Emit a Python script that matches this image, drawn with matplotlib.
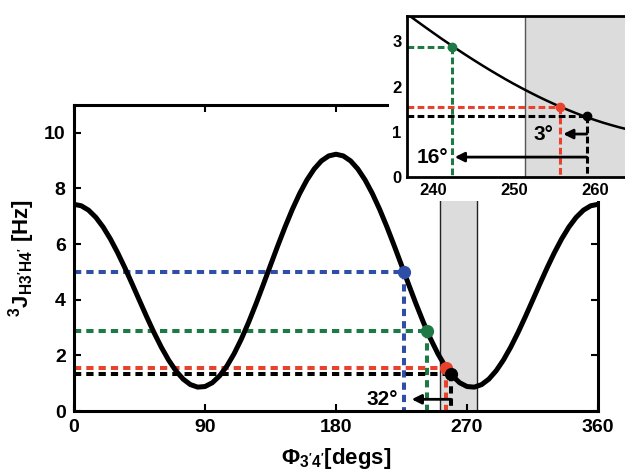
import matplotlib
matplotlib.use("Agg")
import matplotlib.pyplot as plt
from matplotlib.patches import Rectangle

# ---------------- data ----------------
phi_deg = list(range(0, 365, 5))
J_hz = [7.430, 7.377, 7.219, 6.962, 6.613, 6.184, 5.688, 5.142, 4.562, 3.969,
        3.380, 2.815, 2.293, 1.830, 1.444, 1.146, 0.948, 0.858, 0.880, 1.015,
        1.261, 1.612, 2.059, 2.591, 3.193, 3.847, 4.537, 5.241, 5.941, 6.616,
        7.247, 7.815, 8.304, 8.700, 8.992, 9.170, 9.230,
        9.170, 8.992, 8.700, 8.304, 7.815, 7.247, 6.616, 5.941, 5.241, 4.537,
        3.847, 3.193, 2.591, 2.059, 1.612, 1.261, 1.015, 0.880, 0.858, 0.948,
        1.146, 1.444, 1.830, 2.293, 2.815, 3.380, 3.969, 4.562, 5.142, 5.688,
        6.184, 6.613, 6.962, 7.219, 7.377, 7.430]

inset_phi = list(range(236, 266))
inset_J = [3.713, 3.580, 3.449, 3.320, 3.193, 3.067, 2.945, 2.824, 2.706, 2.591,
           2.479, 2.369, 2.263, 2.159, 2.059, 1.963, 1.870, 1.780, 1.694, 1.612,
           1.534, 1.460, 1.389, 1.323, 1.261, 1.203, 1.150, 1.100, 1.056, 1.015]

point_phi = [226.6, 242.4, 255.7, 259.0]
point_J = [5.0, 2.88, 1.55, 1.34]
point_colors = ["#2f4ea8", "#1d7a45", "#e8422c", "#000000"]
inset_point_idx = [1, 2, 3]

shade_range = [251.4, 276.8]

main_xticks = [0, 90, 180, 270, 360]
main_yticks = [0, 2, 4, 6, 8, 10]
inset_xticks = [240, 250, 260]
inset_yticks = [0, 1, 2, 3]

main_arrow = {"start": 259.0, "end": 232.0, "y": 0.42, "label": "32°", "label_x": 212.0}
inset_arrows = [
    {"start": 259.0, "end": 256.1, "y": 0.95, "label": "3°", "label_x": 253.6},
    {"start": 259.0, "end": 242.7, "y": 0.44, "label": "16°", "label_x": 240.0},
]

# ---------------- style ----------------
plt.rcParams["font.family"] = ["Liberation Sans", "DejaVu Sans"]
plt.rcParams["font.weight"] = "bold"
plt.rcParams["mathtext.fontset"] = "custom"
plt.rcParams["mathtext.rm"] = "Liberation Sans:bold"
plt.rcParams["mathtext.bf"] = "Liberation Sans:bold"
plt.rcParams["mathtext.it"] = "Liberation Sans:bold"

fig = plt.figure(figsize=(6.25, 4.74), dpi=100)
W, H = 625, 474

ax = fig.add_axes([74 / W, 1 - 411 / H, (598 - 74) / W, (411 - 105) / H])
ax.set_zorder(1)

ax.axvspan(shade_range[0], shade_range[1], facecolor="#dcdcdc", edgecolor="none", zorder=0)
for xv in shade_range:
    ax.axvline(xv, color="#222222", lw=1.0, zorder=0.5)

dash_main = (1.8, 1.25)
for px, py, c in zip(point_phi, point_J, point_colors):
    ax.plot([0, px], [py, py], color=c, lw=2.9, dashes=dash_main, zorder=2)
    ax.plot([px, px], [py, 0], color=c, lw=2.9, dashes=dash_main, zorder=2)

ax.plot(phi_deg, J_hz, color="black", lw=3.6, zorder=3, solid_capstyle="round")

for px, py, c in zip(point_phi, point_J, point_colors):
    ax.plot(px, py, "o", color=c, ms=8.5, zorder=4)

ax.annotate("", xy=(main_arrow["end"], main_arrow["y"]),
            xytext=(main_arrow["start"], main_arrow["y"]),
            arrowprops=dict(arrowstyle="-|>", color="black", lw=2.0,
                            mutation_scale=14, shrinkA=0, shrinkB=0), zorder=5)
ax.text(main_arrow["label_x"], main_arrow["y"], main_arrow["label"], fontsize=15,
        fontweight="bold", ha="center", va="center", zorder=5)

ax.set_xlim(0, 360)
ax.set_ylim(0, 11)
ax.set_xticks(main_xticks)
ax.set_yticks(main_yticks)
ax.tick_params(direction="in", top=True, right=True, length=5, width=1.5,
               labelsize=14, pad=6)
for lab in ax.get_xticklabels() + ax.get_yticklabels():
    lab.set_fontweight("bold")
for s in ax.spines.values():
    s.set_linewidth(2.2)

ax.set_xlabel(r"$\mathbf{\Phi_{3'4'}}$[degs]", fontsize=16, fontweight="bold", labelpad=7)
ax.set_ylabel(r"$^{\mathbf{3}}\mathbf{J_{H3'H4'}}$ [Hz]", fontsize=16, fontweight="bold", labelpad=5)

# white backing for the inset
rect = Rectangle((389 / W, 1 - 201 / H), 1 - 389 / W, 201 / H, transform=fig.transFigure,
                 facecolor="white", edgecolor="none", zorder=2)
fig.patches.append(rect)

# ---------------- inset ----------------
axi = fig.add_axes([407 / W, 1 - 177 / H, (632 - 407) / W, (177 - 16) / H])
axi.set_zorder(3)
axi.set_xlim(236.8, 264.6)
axi.set_ylim(0, 3.56)

axi.axvspan(shade_range[0], 300, facecolor="#dcdcdc", edgecolor="none", zorder=0)
axi.axvline(shade_range[0], color="#555555", lw=1.0, zorder=0.5)

dash_in = (2.2, 1.1)
for i in inset_point_idx:
    px, py, c = point_phi[i], point_J[i], point_colors[i]
    axi.plot([236.8, px], [py, py], color=c, lw=2.2, dashes=dash_in, zorder=2)
    axi.plot([px, px], [py, 0], color=c, lw=2.2, dashes=dash_in, zorder=2)

axi.plot(inset_phi, inset_J, color="black", lw=1.8, zorder=3)
for i in inset_point_idx:
    axi.plot(point_phi[i], point_J[i], "o", color=point_colors[i], ms=6, zorder=4)

for a in inset_arrows:
    axi.annotate("", xy=(a["end"], a["y"]), xytext=(a["start"], a["y"]),
                 arrowprops=dict(arrowstyle="-|>", color="black", lw=2.0,
                                 mutation_scale=14, shrinkA=0, shrinkB=0), zorder=5)
    axi.text(a["label_x"], a["y"], a["label"], fontsize=15, fontweight="bold",
             ha="center", va="center", zorder=5)

axi.set_xticks(inset_xticks)
axi.set_yticks(inset_yticks)
axi.tick_params(direction="in", length=0, labelsize=12, pad=4)
for lab in axi.get_xticklabels() + axi.get_yticklabels():
    lab.set_fontweight("bold")
for s in axi.spines.values():
    s.set_linewidth(2.0)

fig.savefig("out.png", dpi=100)
